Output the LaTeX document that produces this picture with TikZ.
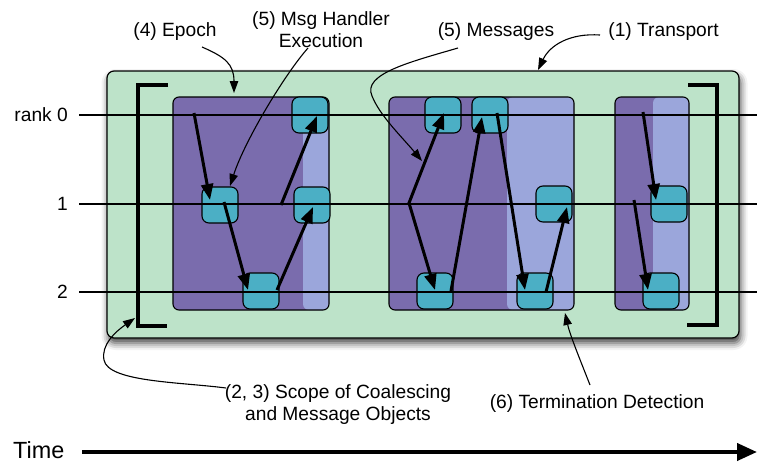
\documentclass[tikz,border=0pt]{standalone}
\usepackage{fontspec}
\setmainfont{Liberation Sans}
\usetikzlibrary{arrows.meta,shadows.blur}

\definecolor{mint}{HTML}{BDE3C9}
\definecolor{dkpurple}{HTML}{7A6CAD}
\definecolor{ltpurple}{HTML}{9BA6DB}
\definecolor{cyanbox}{HTML}{4BAFC5}

\begin{document}
\begin{tikzpicture}[x=1pt,y=-1pt,
  lbl/.style={font=\fontsize{19.2}{22}\selectfont, inner sep=0pt, align=center},
  transport/.style={draw=black, line width=1.2pt, fill=mint, rounded corners=7pt,
    inner sep=0pt, minimum width=632pt, minimum height=267pt,
    blur shadow={shadow xshift=1.5pt, shadow yshift=-5pt, shadow blur radius=7pt, shadow opacity=75}},
  epoch/.style={fill=dkpurple, rounded corners=6pt,
    inner sep=0pt, minimum height=213pt,
    path picture={\fill[ltpurple] ([xshift=-#1]path picture bounding box.north east)
      rectangle (path picture bounding box.south east);},
    postaction={draw=black, line width=1.1pt}},
  hbox/.style={draw=black, line width=1.1pt, fill=cyanbox, rounded corners=7pt,
    minimum size=36pt, inner sep=0pt},
  msg/.style={line width=3pt, -{Triangle[length=16pt,width=12pt]}},
  leader/.style={line width=1.1pt, -{Triangle[length=12pt,width=8.5pt]}},
  bracket/.style={line width=4.5pt},
  rankline/.style={line width=1.2pt},
]
\useasboundingbox (0,0) rectangle (757,463);

% transport layer
\node[transport] (T) at (423,204.5) {};

% coalescing scope brackets
\coordinate (lb1) at (168,85);  \coordinate (lb2) at (138,85);
\coordinate (lb3) at (138,326); \coordinate (lb4) at (167,326);
\coordinate (rb1) at (688,85);  \coordinate (rb2) at (717,85);
\coordinate (rb3) at (717,325); \coordinate (rb4) at (687,325);
\draw[bracket] (lb1) -- (lb2) -- (lb3) -- (lb4);
\draw[bracket] (rb1) -- (rb2) -- (rb3) -- (rb4);

% epochs: dark part is active, light strip is termination detection
\node[epoch=26pt, minimum width=156pt] (E1) at (251,203.5) {};
\node[epoch=67pt, minimum width=185pt] (E2) at (481.5,203.5) {};
\node[epoch=36pt, minimum width=74pt] (E3) at (652,203.5) {};

% message handler executions
\node[hbox] (A) at (220,205) {};
\node[hbox] (B) at (261,291) {};
\node[hbox] (C) at (310,115) {};
\node[hbox] (D) at (312,205) {};
\node[hbox] (E) at (443,115) {};
\node[hbox] (F) at (490,115) {};
\node[hbox] (G) at (435,291) {};
\node[hbox] (H) at (554,204) {};
\node[hbox] (I) at (535,291) {};
\node[hbox] (J) at (669,204) {};
\node[hbox] (K) at (661,291) {};

% ranks
\node[lbl, anchor=base east] (r0) at (68,121) {rank 0};
\node[lbl, anchor=base east] (r1) at (68,210) {1};
\node[lbl, anchor=base east] (r2) at (68,298) {2};
\coordinate (r0a) at (79,115); \coordinate (r0b) at (757,115);
\coordinate (r1a) at (79,204); \coordinate (r1b) at (757,204);
\coordinate (r2a) at (79,292); \coordinate (r2b) at (757,292);
\draw[rankline] (r0a) -- (r0b);
\draw[rankline] (r1a) -- (r1b);
\draw[rankline] (r2a) -- (r2b);

% messages
\coordinate (s1) at (194,113);
\coordinate (s2) at (281,205);
\coordinate (s3) at (409,203);
\coordinate (s4) at (643,112);
\coordinate (s5) at (634,200);
\draw[msg] (s1) -- ([shift={(-10,-5)}]A.center);
\draw[msg] ([shift={(4,-3)}]A.center) -- ([shift={(-13,-1)}]B.center);
\draw[msg] ([shift={(16,-1)}]B.center) -- ([shift={(1,2)}]D.center);
\draw[msg] (s2) -- ([shift={(7,1)}]C.center);
\draw[msg, {Triangle[length=16pt,width=12pt]}-{Triangle[length=16pt,width=12pt]}]
  ([shift={(1,-2)}]E.center) -- (s3) -- ([shift={(0,-1)}]G.center);
\draw[msg] ([shift={(16,0)}]G.center) -- ([shift={(-8,2)}]F.center);
\draw[msg] ([shift={(7,-2)}]F.center) -- ([shift={(-10,-1)}]I.center);
\draw[msg] ([shift={(11,1)}]I.center) -- ([shift={(13,3)}]H.center);
\draw[msg] (s4) -- ([shift={(-13,-4)}]J.center);
\draw[msg] (s5) -- ([shift={(-13,-1)}]K.center);

% annotations
\node[lbl, anchor=base] (lEpoch) at (175,36) {(4) Epoch};
\node[lbl] (lHandler) at (321,30) {(5) Msg Handler\\Execution};
\node[lbl, anchor=base] (lMsgs) at (496,36) {(5) Messages};
\node[lbl, anchor=base] (lTrans) at (663.5,36) {(1) Transport};
\node[lbl] (lScope) at (338,405) {(2, 3) Scope of Coalescing\\and Message Objects};
\node[lbl, anchor=base] (lTerm) at (597,408) {(6) Termination Detection};

\coordinate (t1) at (202,47);  \coordinate (h1) at (234,93);
\coordinate (t2) at (308,48);  \coordinate (h2) at (230,186);
\coordinate (t3) at (458,48);  \coordinate (h3) at (422,161);
\coordinate (t4) at (600,35);  \coordinate (h4) at (538,70);
\coordinate (t5) at (226,388); \coordinate (h5) at (135,318);
\coordinate (t6) at (590,385); \coordinate (h6) at (565,313);
\draw[leader] (t1) .. controls (225,57) and (234,64) .. (h1);
\draw[leader] (t2) .. controls (285,74) and (245,140) .. (h2);
\draw[leader] (t3) .. controls (410,62) and (362,74) .. (372,96)
  .. controls (380,116) and (402,137) .. (h3);
\draw[leader] (t4) .. controls (570,33) and (550,45) .. (h4);
\draw[leader] (t5) .. controls (180,382) and (108,382) .. (104,360)
  .. controls (101,345) and (115,332) .. (h5);
\draw[leader] (t6) .. controls (579,357) and (570,335) .. (h6);

% time axis
\node[font=\fontsize{23.4}{26}\selectfont, inner sep=0pt, anchor=base west] (time) at (13,458) {Time};
\coordinate (ta) at (82,452); \coordinate (tb) at (757,452);
\draw[line width=4pt, -{Triangle[length=20pt,width=17pt]}] (ta) -- (tb);
\end{tikzpicture}
\end{document}
